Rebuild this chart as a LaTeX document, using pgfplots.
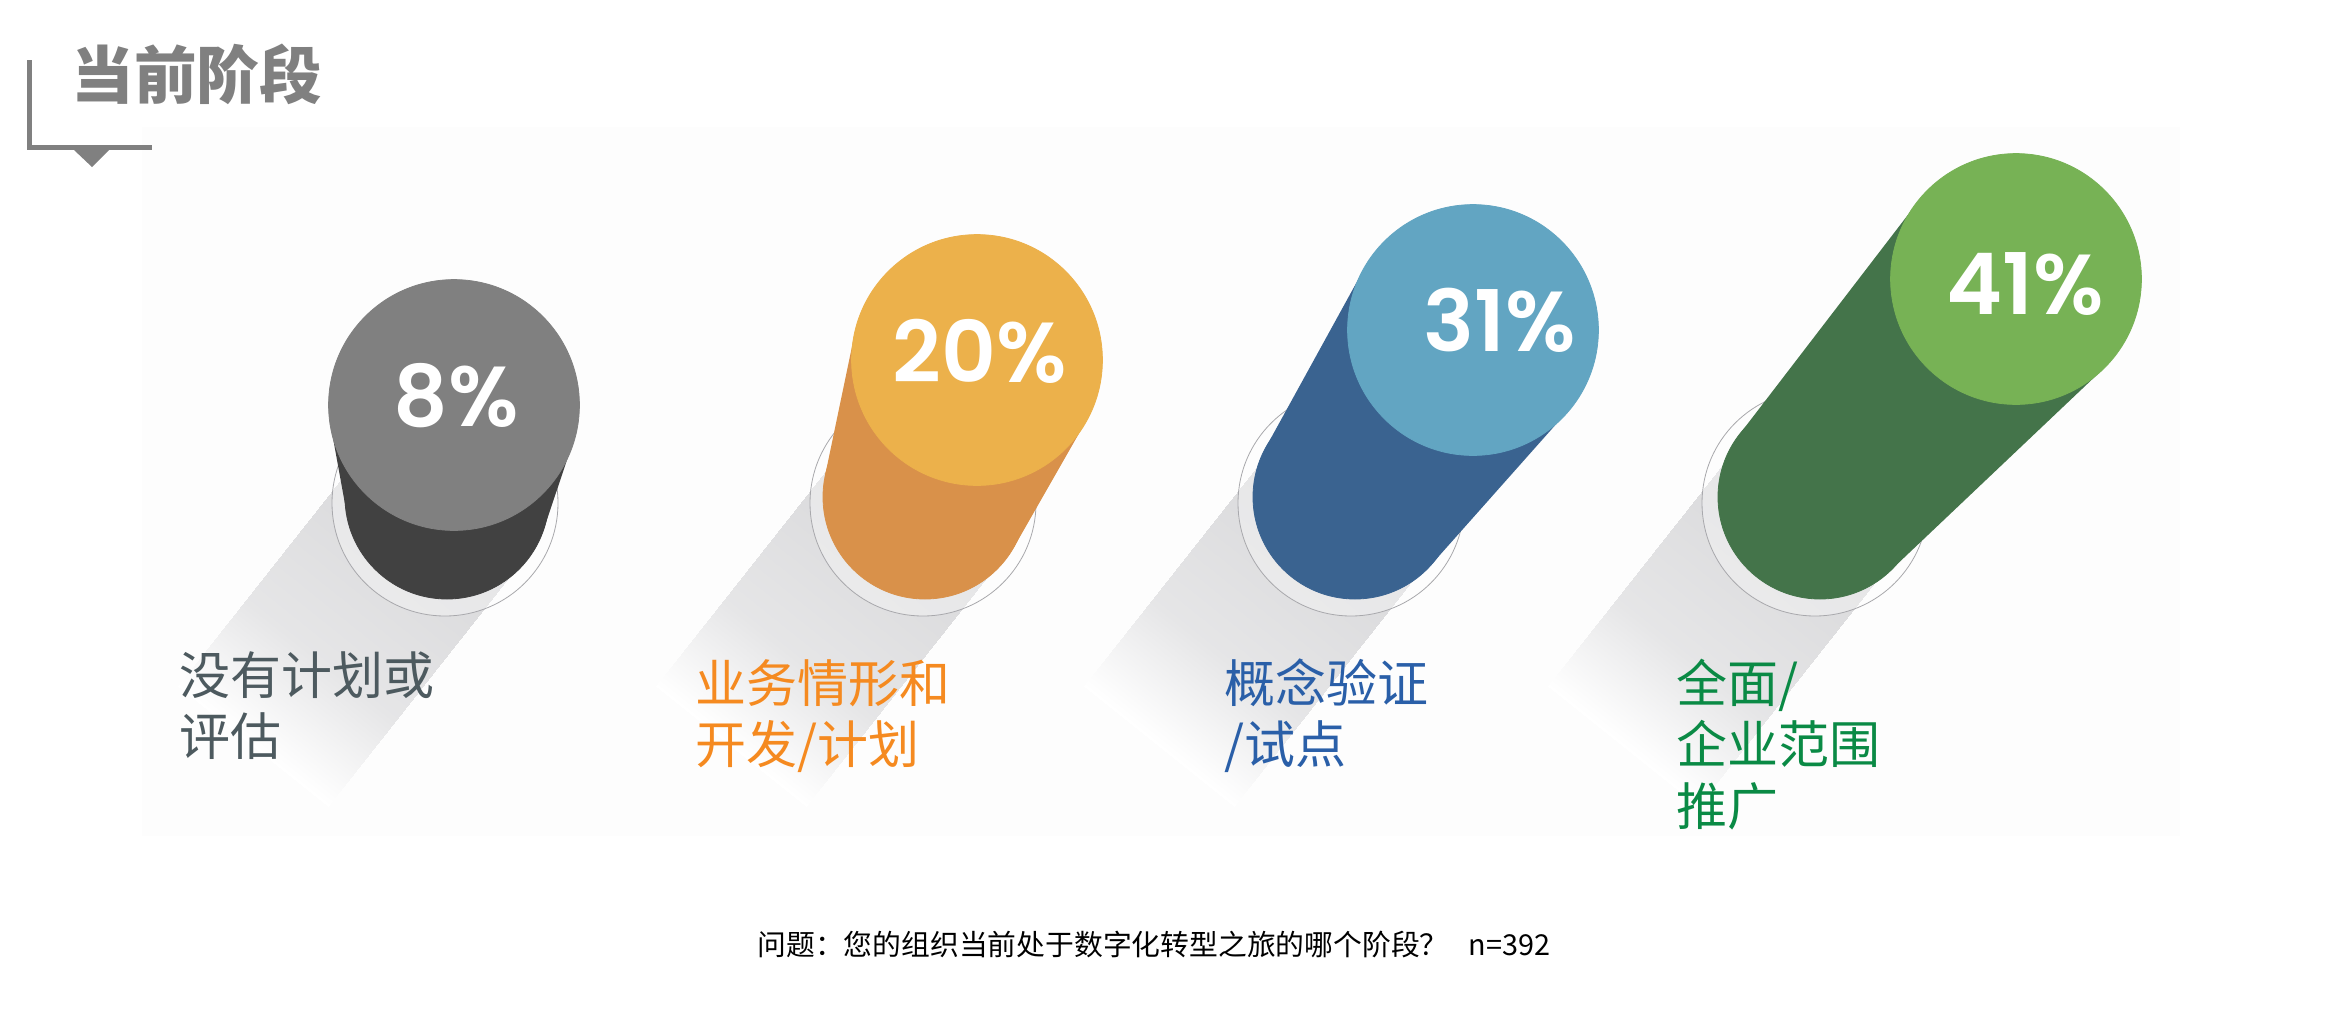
\documentclass[border=0pt]{standalone}
\usepackage{fontspec}
\usepackage{pgfplots}
\pgfplotsset{compat=1.18}
\setmainfont{Noto Sans CJK SC}
\newfontfamily\titlefont{Noto Sans CJK SC Black}
\newfontfamily\pctfont{Poppins SemiBold}

\definecolor{deco}{HTML}{808080}
\definecolor{paper}{HTML}{FDFDFD}
\definecolor{shadow}{HTML}{D8D8DA}
\definecolor{ringline}{HTML}{A8A8AC}
\definecolor{topA}{HTML}{808080}
\definecolor{bodyA}{HTML}{414141}
\definecolor{topB}{HTML}{ECB14B}
\definecolor{bodyB}{HTML}{D9914A}
\definecolor{topC}{HTML}{62A5C2}
\definecolor{bodyC}{HTML}{3A6390}
\definecolor{topD}{HTML}{77B255}
\definecolor{bodyD}{HTML}{44744A}
\definecolor{txtA}{HTML}{4D5A5F}
\definecolor{txtB}{HTML}{F58A20}
\definecolor{txtC}{HTML}{2A5FA8}
\definecolor{txtD}{HTML}{0A8A45}

\pgfplotsset{
    shadowband/.style={patch,patch type=rectangle,shader=interp,point meta=explicit},
    body/.style={fill=#1,draw=none},
    basecap/.style={only marks,mark=*,mark size=51pt,mark options={color=#1}},
    topcap/.style={only marks,mark=*,mark size=62.7pt,mark options={color=#1}},
    basering/.style={only marks,mark=*,mark size=56.5pt,mark options={draw=ringline,line width=0.4pt,fill=white,fill opacity=0.35}},
}
\tikzset{
    lab/.style={anchor=base west,inner sep=0pt,font=\fontsize{25.5}{30}\selectfont,text=#1},
    pct/.style={anchor=center,inner sep=0pt,text=white,font=\pctfont\fontsize{42.5}{48}\selectfont},
}

\begin{document}
\begin{tikzpicture}
\begin{axis}[
    scale only axis,
    width=1171pt,
    height=506.5pt,
    xmin=0, xmax=2342,
    ymin=0, ymax=1013,
    y dir=reverse,
    ticks=none,
    axis line style={draw=none},
    clip marker paths=true,
    colormap={fade}{color=(white) color=(shadow)},
    point meta min=0,
    point meta max=1,
]

% faint panel behind the cylinders
\addplot[fill=paper,draw=none] coordinates {(142,127)(2180,127)(2180,836)(142,836)(142,127)};

% title bracket
\addplot[deco,line width=2.6pt] coordinates {(29.5,60)(29.5,147.5)(152,147.5)};
\addplot[fill=deco,draw=none] coordinates {(74,150)(109,150)(92,167)(74,150)};

% shadows, each in two pieces so the fade starts late
\addplot[shadowband] coordinates {(520,563)[1] (370,443)[1] (246,600)[0.65] (396,720)[0.65]};
\addplot[shadowband] coordinates {(396,720)[0.65] (246,600)[0.65] (178,686)[0] (328,806)[0]};
\addplot[shadowband] coordinates {(998,563)[1] (848,443)[1] (724,600)[0.65] (874,720)[0.65]};
\addplot[shadowband] coordinates {(874,720)[0.65] (724,600)[0.65] (656,686)[0] (806,806)[0]};
\addplot[shadowband] coordinates {(1426,563)[1] (1276,443)[1] (1152,600)[0.65] (1302,720)[0.65]};
\addplot[shadowband] coordinates {(1302,720)[0.65] (1152,600)[0.65] (1084,686)[0] (1234,806)[0]};
\addplot[shadowband] coordinates {(1890,563)[1] (1740,443)[1] (1616,600)[0.65] (1766,720)[0.65]};
\addplot[shadowband] coordinates {(1766,720)[0.65] (1616,600)[0.65] (1548,686)[0] (1698,806)[0]};

% base rings
\addplot[basering] coordinates {(445,503)(923,503)(1351,503)(1815,503)};

% cylinders: 8 / 20 / 31 / 41 percent
\addplot[body=bodyA] coordinates {(347,515)(331,427)(572,445)(543.5,530)(347,515)};
\addplot[basecap=bodyA] coordinates {(447,497)};
\addplot[topcap=topA] coordinates {(454,405)};

\addplot[body=bodyB] coordinates {(825,476)(854.5,334.5)(1085.5,422)(1013.5,548)(825,476)};
\addplot[basecap=bodyB] coordinates {(925,497)};
\addplot[topcap=topB] coordinates {(977,360)};

\addplot[body=bodyC] coordinates {(1265.5,448)(1363.4,270)(1566,413)(1431,565)(1265.5,448)};
\addplot[basecap=bodyC] coordinates {(1355,497)};
\addplot[topcap=topC] coordinates {(1473,330)};

\addplot[body=bodyD] coordinates {(1739,435)(1917,203)(2102,370)(1890,571)(1739,435)};
\addplot[basecap=bodyD] coordinates {(1820,497)};
\addplot[topcap=topD] coordinates {(2016,279)};

\node[pct] at (axis cs:456,396) {8\%};
\node[pct] at (axis cs:980,351) {20\%};
\node[pct] at (axis cs:1500,320) {31\%};
\node[pct] at (axis cs:2025,284) {41\%};

\node[anchor=base west,inner sep=0pt,text=deco,font=\titlefont\fontsize{31.3}{36}\selectfont] at (axis cs:71,98) {当前阶段};

\node[lab=txtA] at (axis cs:179,694) {没有计划或};
\node[lab=txtA] at (axis cs:179,755) {评估};
\node[lab=txtB] at (axis cs:695,702) {业务情形和};
\node[lab=txtB] at (axis cs:695,763) {开发/计划};
\node[lab=txtC] at (axis cs:1224,702) {概念验证};
\node[lab=txtC] at (axis cs:1224,763) {/试点};
\node[lab=txtD] at (axis cs:1676,702) {全面/};
\node[lab=txtD] at (axis cs:1676,763) {企业范围};
\node[lab=txtD] at (axis cs:1676,825) {推广};

\node[anchor=base west,inner sep=0pt,text=black,font=\fontsize{14.4}{17}\selectfont] at (axis cs:757,955) {问题^^^^ff1a您的组织当前处于数字化转型之旅的哪个阶段^^^^ff1f\hspace{10pt}n=392};

\end{axis}
\end{tikzpicture}
\end{document}
